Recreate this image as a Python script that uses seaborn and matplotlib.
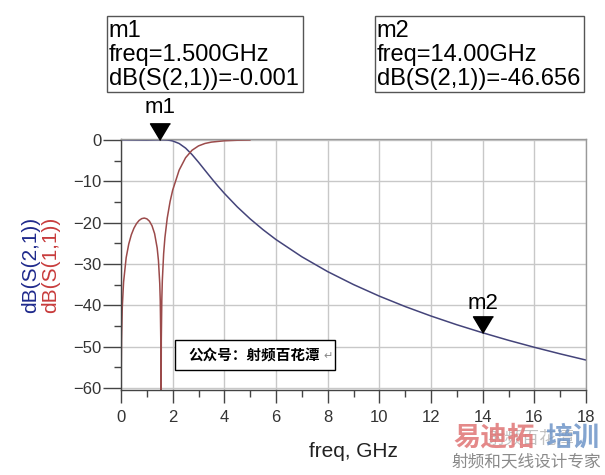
import numpy as np
import matplotlib
matplotlib.use("Agg")
import matplotlib.pyplot as plt
import matplotlib.patches as mpatches
from matplotlib.ticker import MultipleLocator
import pandas as pd
import seaborn as sns

sns.set_style('white')
plt.rcParams['font.family'] = ['Liberation Sans', 'Noto Sans CJK SC', 'DejaVu Sans']

# values (GHz, dB)
freq_s21 = [0, 0.5, 1.0, 1.5, 1.79, 1.9, 2.0, 2.25, 2.5, 2.75, 3.0, 3.25, 3.5, 3.75,
            4.0, 4.5, 5.0, 5.5, 6, 7, 8, 9, 10, 11, 12, 13, 14, 15, 16, 17, 18]
s21_db = [0, -0.03, -0.05, -0.001, -0.06, -0.14, -0.27, -0.89, -2.00, -3.57, -5.41, -7.36,
          -9.30, -11.17, -12.94, -16.21, -19.12, -21.74, -24.12, -28.28, -31.87, -35.00,
          -37.80, -40.32, -42.61, -44.72, -46.66, -48.48, -50.17, -51.76, -53.26]

freq_s11 = [0, 0.01, 0.02, 0.05, 0.1, 0.2, 0.3, 0.4, 0.5, 0.6, 0.7, 0.8, 0.9, 1.0, 1.1,
            1.2, 1.3, 1.4, 1.45, 1.5, 1.52, 1.54, 1.55, 1.56, 1.58, 1.6, 1.65, 1.7, 1.79,
            1.9, 2.0, 2.25, 2.5, 2.75, 3.0, 3.25, 3.5, 4.0, 4.5, 5.0]
s11_db = [-75, -54.4, -48.3, -40.4, -34.4, -28.5, -25.2, -22.95, -21.38, -20.26, -19.50,
          -19.06, -18.92, -19.10, -19.67, -20.77, -22.67, -26.15, -29.22, -34.76, -39.0,
          -48.3, -75, -48.5, -38.6, -34.0, -27.57, -23.65, -18.92, -14.93, -12.18, -7.34,
          -4.33, -2.52, -1.47, -0.88, -0.55, -0.23, -0.10, -0.05]

markers = ['m1', 'm2']
marker_freq = [1.5, 14.0]
marker_db = [-0.001, -46.656]

df21 = pd.DataFrame({'freq': freq_s21, 'db': s21_db})
df11 = pd.DataFrame({'freq': freq_s11, 'db': s11_db})

W, H = 605, 475
fig = plt.figure(figsize=(6.05, 4.75), dpi=100)
ax = fig.add_axes([121 / W, 1 - 390 / H, 465 / W, 251 / H])

sns.lineplot(data=df21, x='freq', y='db', ax=ax, color='#44447a', lw=1.1)
sns.lineplot(data=df11, x='freq', y='db', ax=ax, color='#9b4a4a', lw=1.1)

ax.set_xlim(0, 18)
ax.set_ylim(-60.5, 0.2)
ax.xaxis.set_major_locator(MultipleLocator(2))
ax.xaxis.set_minor_locator(MultipleLocator(1))
ax.yaxis.set_major_locator(MultipleLocator(10))
ax.yaxis.set_minor_locator(MultipleLocator(5))
ax.grid(True, which='major', color='#c8c8c8', lw=1)
ax.tick_params(axis='y', which='major', direction='out', length=13, width=1,
               color='#444444', labelsize=12, labelcolor='#333333', pad=1, left=True)
ax.tick_params(axis='y', which='minor', direction='out', length=5, width=1,
               color='#444444', left=True)
ax.tick_params(axis='x', which='major', direction='out', length=9.5, width=1,
               color='#444444', labelsize=12, labelcolor='#333333', pad=5, bottom=True)
ax.tick_params(axis='x', which='minor', direction='out', length=5, width=1,
               color='#444444', bottom=True)
for side in ['left', 'bottom']:
    ax.spines[side].set_color('#444444')
    ax.spines[side].set_linewidth(1)
for side in ['top', 'right']:
    ax.spines[side].set_color('#999999')
    ax.spines[side].set_linewidth(1)

ax.set_xlabel('freq, GHz', fontsize=15, color='#222222', labelpad=12)
ax.set_ylabel('')
fig.text(31 / W, 1 - 265 / H, 'dB(S(2,1))', rotation=90, fontsize=15,
         color='#1f2a8c', ha='center', va='center')
fig.text(50.5 / W, 1 - 265 / H, 'dB(S(1,1))', rotation=90, fontsize=15,
         color='#c83c3c', ha='center', va='center')

# marker triangles, tip on the trace
tri = [(0, 0), (-0.6, 1), (0.6, 1)]
for name, f, d, off in zip(markers, marker_freq, marker_db, [23, 21]):
    ax.plot([f], [d], marker=tri, ms=24, color='black', ls='none', clip_on=False, zorder=5)
    ax.annotate(name, (f, d), xytext=(0, off), textcoords='offset points',
                ha='center', va='center', fontsize=16, color='black',
                annotation_clip=False, zorder=6)

# marker readout boxes
boxes = [(107, 303), (375, 584)]
for (x0, x1), name, f, d in zip(boxes, markers, marker_freq, marker_db):
    fig.add_artist(mpatches.Rectangle((x0 / W, 1 - 92 / H), (x1 - x0) / W, 76 / H,
                                      transform=fig.transFigure, fill=False,
                                      ec='#555555', lw=1))
    if f < 10:
        ftxt = 'freq=%.3fGHz' % f
    else:
        ftxt = 'freq=%.2fGHz' % f
    lines = [name, ftxt, 'dB(S(2,1))=%.3f' % d]
    for txt, base in zip(lines, [37, 61, 85]):
        fig.text((x0 + 1.5) / W, 1 - base / H, txt, fontsize=17, color='black',
                 ha='left', va='baseline')

# caption box
fig.add_artist(mpatches.Rectangle((175 / W, 1 - 370 / H), 160 / W, 30 / H,
                                  transform=fig.transFigure, fc='white',
                                  ec='black', lw=1, zorder=3))
fig.text(188 / W, 1 - 355 / H, '公众号：射频百花潭', fontsize=10.5, fontweight='bold',
         family=['Noto Sans CJK SC', 'DejaVu Sans'], color='black',
         ha='left', va='center', zorder=4)
fig.text(323 / W, 1 - 356 / H, '↵', fontsize=8, family=['DejaVu Sans'],
         color='#888888', ha='left', va='center', zorder=4)

# watermark
cjk = ['Noto Sans CJK SC', 'DejaVu Sans']
fig.text(487 / W, 1 - 439 / H, '射频百花潭', fontsize=12.5, family=cjk,
         color='#999999', alpha=0.6, ha='left', va='center', zorder=4)
fig.text(453 / W, 1 - 438 / H, '易迪拓', fontsize=19.5, fontweight='bold', family=cjk,
         color='#e07575', alpha=0.85, ha='left', va='center', zorder=5)
fig.text(545 / W, 1 - 438 / H, '培训', fontsize=19.5, fontweight='bold', family=cjk,
         color='#6f95c8', alpha=0.85, ha='left', va='center', zorder=5)
fig.text(452 / W, 1 - 462 / H, '射频和天线设计专家', fontsize=12, family=cjk,
         color='#8a8a8a', ha='left', va='center', zorder=5)

fig.savefig('out.png', dpi=100)
